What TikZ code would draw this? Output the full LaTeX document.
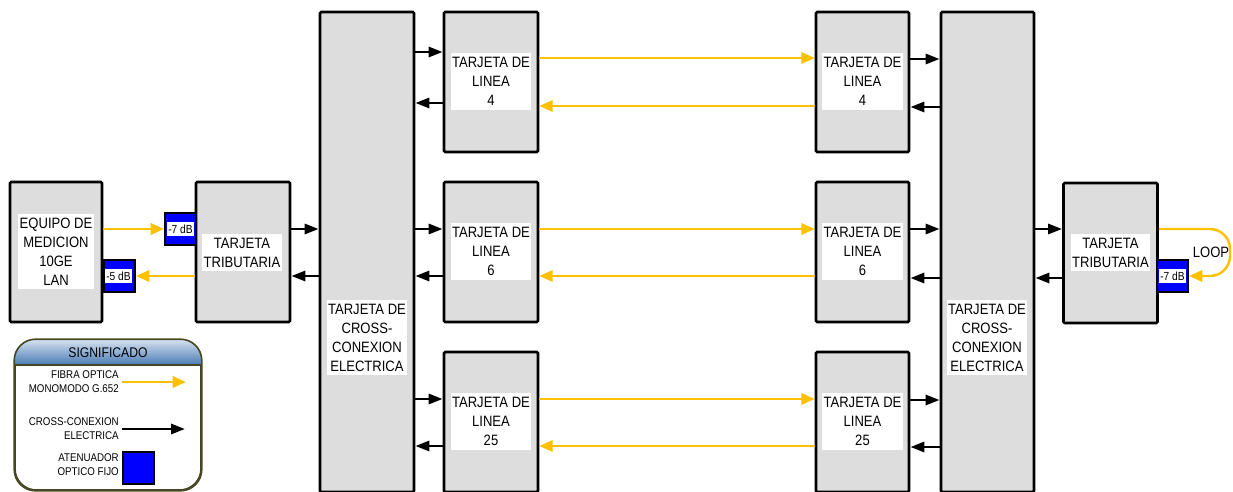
\documentclass[tikz,border=0pt]{standalone}
\usepackage{fontspec}
\setmainfont{Liberation Sans}[FakeStretch=0.87]
\usetikzlibrary{arrows.meta}
\definecolor{BoxGray}{RGB}{221,221,221}
\definecolor{FiberYellow}{RGB}{255,192,0}
\definecolor{AttBlue}{RGB}{0,0,255}
\definecolor{HeadTop}{RGB}{215,227,240}
\definecolor{HeadMid}{RGB}{140,172,208}
\definecolor{HeadBot}{RGB}{72,122,180}
\definecolor{LegendEdge}{RGB}{70,70,35}
\tikzset{
  box/.style={draw=black,line width=2pt,fill=BoxGray,rounded corners=1pt,minimum width=70.5pt,minimum height=105pt,inner sep=0pt},
  card/.style={box},
  cross/.style={box,minimum height=360pt},
  txt/.style={fill=white,align=center,text=black,font=\fontsize{11.25}{14.25}\selectfont,inner xsep=1pt,inner ysep=3pt},
  att/.style={draw=black,line width=1.5pt,fill=AttBlue,minimum width=23.25pt,minimum height=24pt,inner sep=0pt},
  atttxt/.style={fill=white,font=\fontsize{8.8}{10}\selectfont,inner xsep=1pt,inner ysep=2pt},
  lgtxt/.style={align=right,font=\fontsize{8.4}{10.5}\selectfont,inner sep=0pt,anchor=east},
  legend/.style={draw=LegendEdge,line width=1.2pt,rounded corners=16pt,minimum width=139.5pt,minimum height=112.5pt},
  header/.style={top color=HeadTop,middle color=HeadMid,bottom color=HeadBot},
  fibra/.style={-{Triangle[length=10pt,width=8.5pt]},line width=1.8pt,draw=FiberYellow},
  xc/.style={-{Triangle[length=10.5pt,width=7.5pt]},line width=2.2pt,draw=black}
}
\begin{document}
\begin{tikzpicture}[x=0.75pt,y=-0.75pt]
  \useasboundingbox (0,0) rectangle (1233,492);
  \clip (0,0) rectangle (1233,492);
  \node[box,minimum width=69pt] (equip) at (56,252) {};
  \node[box] (tribL) at (243,252) {};
  \node[cross] (crossL) at (367,252) {};
  \node[card] (lc4L) at (491,82) {};
  \node[card] (lc6L) at (491,252) {};
  \node[card] (lc25L) at (491,422) {};
  \node[card,minimum width=69.75pt] (lc4R) at (862.5,82) {};
  \node[card,minimum width=69.75pt] (lc6R) at (862.5,252) {};
  \node[card,minimum width=69.75pt] (lc25R) at (862.5,422) {};
  \node[cross,minimum width=69.75pt] (crossR) at (987.5,252) {};
  \node[box] (tribR) at (1110.5,253) {};
  \node[att] (atL7) at (180.5,229) {};
  \node[att] (atL5) at (119.5,276) {};
  \node[att] (atR7) at (1172.5,276) {};
  \draw[fibra] (equip.east |- 0,229) -- (atL7.west);
  \draw[fibra] (tribL.west |- 0,276) -- (atL5.east);
  \draw[xc] (tribL.east |- 0,229) -- (crossL.west |- 0,229);
  \draw[xc] (crossL.west |- 0,276) -- (tribL.east |- 0,276);
  \draw[xc] (crossL.east |- 0,52) -- (lc4L.west |- 0,52);
  \draw[xc] (lc4L.west |- 0,103) -- (crossL.east |- 0,103);
  \draw[xc] (crossL.east |- 0,229) -- (lc6L.west |- 0,229);
  \draw[xc] (lc6L.west |- 0,276) -- (crossL.east |- 0,276);
  \draw[xc] (crossL.east |- 0,399) -- (lc25L.west |- 0,399);
  \draw[xc] (lc25L.west |- 0,446) -- (crossL.east |- 0,446);
  \draw[fibra] (lc4L.east |- 0,58) -- (lc4R.west |- 0,58);
  \draw[fibra] (lc4R.west |- 0,106) -- (lc4L.east |- 0,106);
  \draw[fibra] (lc6L.east |- 0,229) -- (lc6R.west |- 0,229);
  \draw[fibra] (lc6R.west |- 0,276) -- (lc6L.east |- 0,276);
  \draw[fibra] (lc25L.east |- 0,399) -- (lc25R.west |- 0,399);
  \draw[fibra] (lc25R.west |- 0,446) -- (lc25L.east |- 0,446);
  \draw[xc] (lc4R.east |- 0,59) -- (crossR.west |- 0,59);
  \draw[xc] (crossR.west |- 0,107) -- (lc4R.east |- 0,107);
  \draw[xc] (lc6R.east |- 0,229) -- (crossR.west |- 0,229);
  \draw[xc] (crossR.west |- 0,278) -- (lc6R.east |- 0,278);
  \draw[xc] (lc25R.east |- 0,400) -- (crossR.west |- 0,400);
  \draw[xc] (crossR.west |- 0,447) -- (lc25R.east |- 0,447);
  \draw[xc] (crossR.east |- 0,229) -- (tribR.west |- 0,229);
  \draw[xc] (tribR.west |- 0,278) -- (crossR.east |- 0,278);
  \draw[fibra,rounded corners=15pt] (tribR.east |- 0,229) -- (1230,229) -- (1230,276) -- (atR7.east);
  \node[txt] (equipTxt) at (56,251.5) {EQUIPO DE\\MEDICION\\10GE\\LAN};
  \node[txt] (tribLTxt) at (242,252.5) {TARJETA\\TRIBUTARIA};
  \node[txt] (crossLTxt) at (367,337.5) {TARJETA DE\\CROSS-\\CONEXION\\ELECTRICA};
  \node[txt] (lc4LTxt) at (491,81.5) {TARJETA DE\\LINEA\\4};
  \node[txt] (lc6LTxt) at (491,251.5) {TARJETA DE\\LINEA\\6};
  \node[txt] (lc25LTxt) at (491,421.5) {TARJETA DE\\LINEA\\25};
  \node[txt] (lc4RTxt) at (862.5,81.5) {TARJETA DE\\LINEA\\4};
  \node[txt] (lc6RTxt) at (862.5,251.5) {TARJETA DE\\LINEA\\6};
  \node[txt] (lc25RTxt) at (862.5,421.5) {TARJETA DE\\LINEA\\25};
  \node[txt] (crossRTxt) at (987,337.5) {TARJETA DE\\CROSS-\\CONEXION\\ELECTRICA};
  \node[txt] (tribRTxt) at (1110.5,252.5) {TARJETA\\TRIBUTARIA};
  \node[atttxt] (atL7Txt) at (atL7) {-7 dB};
  \node[atttxt] (atL5Txt) at (118.5,276) {-5 dB};
  \node[atttxt] (atR7Txt) at (atR7) {-7 dB};
  \node[txt,fill=none] (loopTxt) at (1211,252) {LOOP};
  \node[legend] (legend) at (108,415) {};
  \begin{scope}
    \clip[rounded corners=16pt] (legend.north west) rectangle (legend.south east);
    \shade[header] (legend.north west) rectangle (legend.east |- 0,365);
  \end{scope}
  \draw[LegendEdge,line width=0.8pt] (legend.west |- 0,365) -- (legend.east |- 0,365);
  \draw[LegendEdge,line width=1.2pt,rounded corners=16pt] (legend.north west) rectangle (legend.south east);
  \node[font=\fontsize{10.5}{12}\selectfont] (lgHead) at (108,352.5) {SIGNIFICADO};
  \node[lgtxt] (lgFib) at (119,382) {FIBRA OPTICA\\MONOMODO G.652};
  \coordinate (lgFibEnd) at (186,382);
  \draw[fibra] ([xshift=2.25pt]lgFib.east) -- (lgFibEnd);
  \node[lgtxt] (lgXc) at (119,429) {CROSS-CONEXION\\ELECTRICA};
  \coordinate (lgXcEnd) at (185,429);
  \draw[xc] ([xshift=2.25pt]lgXc.east) -- (lgXcEnd);
  \node[lgtxt] (lgAtt) at (119,465) {ATENUADOR\\OPTICO FIJO};
  \node[att] (lgAttBox) at (138.5,467.5) {};
\end{tikzpicture}
\end{document}
